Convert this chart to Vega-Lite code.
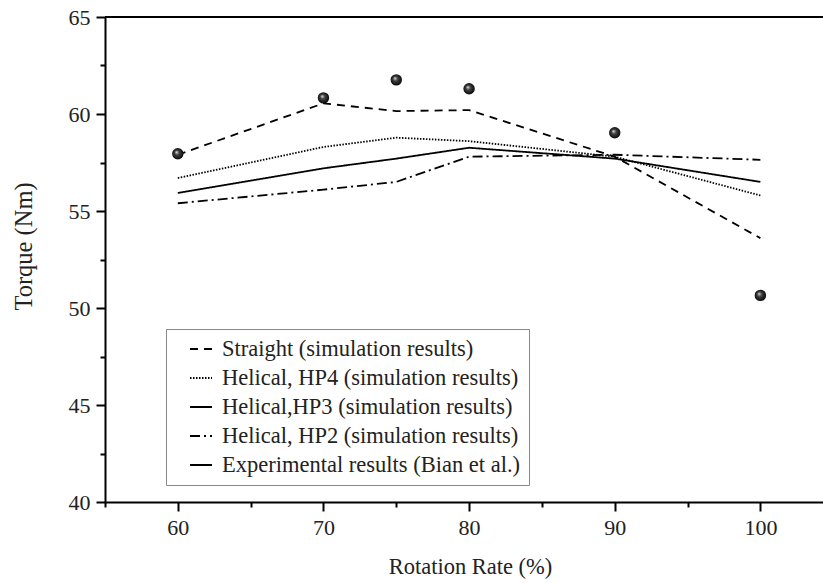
{
  "$schema": "https://vega.github.io/schema/vega-lite/v6.json",
  "autosize": "none",
  "width": 718,
  "height": 485,
  "padding": {"left": 105, "top": 17, "right": 0, "bottom": 81},
  "background": "white",
  "config": {
    "view": {"stroke": null},
    "font": "Liberation Serif",
    "axis": {"labelFont": "Liberation Serif", "titleFont": "Liberation Serif", "labelFontSize": 22, "titleFontSize": 22.5, "titleFontWeight": "normal", "labelColor": "#222", "titleColor": "#222", "domainColor": "black", "domainWidth": 2, "tickColor": "black", "tickWidth": 2, "grid": false}
  },
  "data": {
    "values": [
      {"series": "Straight (simulation results)", "x": 60, "y": 57.9},
      {"series": "Straight (simulation results)", "x": 70, "y": 60.55},
      {"series": "Straight (simulation results)", "x": 75, "y": 60.15},
      {"series": "Straight (simulation results)", "x": 80, "y": 60.2},
      {"series": "Straight (simulation results)", "x": 90, "y": 57.8},
      {"series": "Straight (simulation results)", "x": 100, "y": 53.6},
      {"series": "Helical, HP4 (simulation results)", "x": 60, "y": 56.7},
      {"series": "Helical, HP4 (simulation results)", "x": 70, "y": 58.3},
      {"series": "Helical, HP4 (simulation results)", "x": 75, "y": 58.78},
      {"series": "Helical, HP4 (simulation results)", "x": 80, "y": 58.6},
      {"series": "Helical, HP4 (simulation results)", "x": 90, "y": 57.8},
      {"series": "Helical, HP4 (simulation results)", "x": 100, "y": 55.8},
      {"series": "Helical,HP3 (simulation results)", "x": 60, "y": 55.93},
      {"series": "Helical,HP3 (simulation results)", "x": 70, "y": 57.2},
      {"series": "Helical,HP3 (simulation results)", "x": 75, "y": 57.7},
      {"series": "Helical,HP3 (simulation results)", "x": 80, "y": 58.26},
      {"series": "Helical,HP3 (simulation results)", "x": 90, "y": 57.7},
      {"series": "Helical,HP3 (simulation results)", "x": 100, "y": 56.5},
      {"series": "Helical, HP2 (simulation results)", "x": 60, "y": 55.4},
      {"series": "Helical, HP2 (simulation results)", "x": 70, "y": 56.1},
      {"series": "Helical, HP2 (simulation results)", "x": 75, "y": 56.5},
      {"series": "Helical, HP2 (simulation results)", "x": 80, "y": 57.8},
      {"series": "Helical, HP2 (simulation results)", "x": 90, "y": 57.9},
      {"series": "Helical, HP2 (simulation results)", "x": 100, "y": 57.64},
      {"series": "Experimental results (Bian et al.)", "x": 60, "y": 57.95},
      {"series": "Experimental results (Bian et al.)", "x": 70, "y": 60.83},
      {"series": "Experimental results (Bian et al.)", "x": 75, "y": 61.76},
      {"series": "Experimental results (Bian et al.)", "x": 80, "y": 61.3},
      {"series": "Experimental results (Bian et al.)", "x": 90, "y": 59.03},
      {"series": "Experimental results (Bian et al.)", "x": 100, "y": 50.65}
    ]
  },
  "encoding": {
    "x": {"field": "x", "type": "quantitative", "scale": {"domain": [55, 104.3], "nice": false, "zero": false},
      "axis": {"title": "Rotation Rate (%)", "values": [55, 60, 65, 70, 75, 80, 85, 90, 95, 100], "labelExpr": "datum.value % 10 === 0 ? datum.label : ''", "tickSize": {"condition": {"test": "datum.value % 10 === 0", "value": 9}, "value": 5}, "labelPadding": 6, "titlePadding": 17, "titleX": 365}},
    "y": {"field": "y", "type": "quantitative", "scale": {"domain": [40, 65], "nice": false, "zero": false},
      "axis": {"title": "Torque (Nm)", "titleFontSize": 24.5, "values": [40, 42.5, 45, 47.5, 50, 52.5, 55, 57.5, 60, 62.5, 65], "labelExpr": "datum.value % 5 === 0 ? datum.label : ''", "tickSize": {"condition": {"test": "datum.value % 5 === 0", "value": 9}, "value": 5}, "labelPadding": 6, "titlePadding": 32, "titleY": 229}}
  },
  "layer": [
    {
      "mark": {"type": "rule", "color": "black", "strokeWidth": 2},
      "encoding": {"x": null, "y": {"datum": 65, "type": "quantitative"}}
    },
    {
      "transform": [{"filter": "datum.series !== 'Experimental results (Bian et al.)'"}],
      "mark": {"type": "line", "color": "black", "strokeWidth": 1.8},
      "encoding": {
        "detail": {"field": "series"},
        "strokeDash": {"field": "series", "type": "nominal",
          "scale": {"domain": ["Straight (simulation results)", "Helical, HP4 (simulation results)", "Helical,HP3 (simulation results)", "Helical, HP2 (simulation results)", "Experimental results (Bian et al.)"],
                    "range": [[8, 6], [1.5, 1.5], [1, 0], [10, 4, 2, 4], [1, 0]]},
          "legend": {"title": null, "orient": "none", "legendX": 61, "legendY": 312, "strokeColor": "#888", "padding": 8, "labelFont": "Liberation Serif", "labelFontSize": 22.5, "labelColor": "#222", "labelLimit": 0, "symbolSize": 484, "symbolOffset": 15, "labelOffset": 9, "rowPadding": 5, "symbolStrokeWidth": 2}
        }
      }
    },
    {
      "transform": [{"filter": "datum.series === 'Experimental results (Bian et al.)'"}],
      "mark": {"type": "point", "filled": true, "size": 130, "opacity": 1,
        "color": {"gradient": "radial", "x1": 0.38, "y1": 0.35, "r1": 0, "x2": 0.5, "y2": 0.5, "r2": 0.55,
          "stops": [{"offset": 0, "color": "#e8e8e8"}, {"offset": 0.35, "color": "#444"}, {"offset": 1, "color": "#000"}]}}
    }
  ]
}
